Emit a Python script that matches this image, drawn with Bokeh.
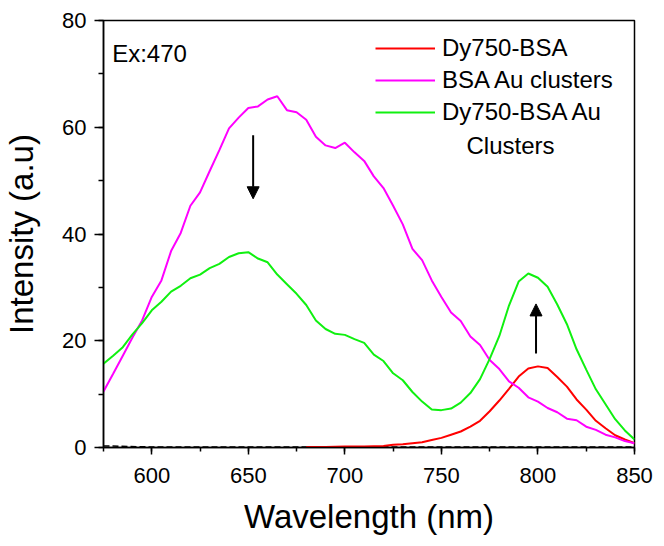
from bokeh.plotting import figure
from bokeh.models import (Range1d, SingleIntervalTicker, Legend, LegendItem, Label,
                          Arrow, NormalHead)
from bokeh.embed import file_html
from bokeh.resources import INLINE

# ---- data ----
wl = [575, 580, 585, 590, 595, 600, 605, 610, 615, 620, 625, 630, 635, 640, 645,
      650, 655, 660, 665, 670, 675, 680, 685, 690, 695, 700, 705, 710, 715, 720,
      725, 730, 735, 740, 745, 750, 755, 760, 765, 770, 775, 780, 785, 790, 795,
      800, 805, 810, 815, 820, 825, 830, 835, 840, 845, 850]

bsa_au = [10.5, 13.8, 17.2, 20.6, 23.8, 28.2, 31.3, 36.8, 40.2, 45.3, 47.8, 51.8,
          55.7, 59.8, 61.8, 63.6, 63.9, 65.2, 65.8, 63.2, 62.8, 61.4, 58.2, 56.6,
          56.1, 57.1, 55.3, 53.7, 50.8, 48.6, 45.3, 41.8, 37.2, 35.1, 31.3, 28.2,
          25.3, 23.7, 20.8, 19.2, 16.4, 14.7, 12.4, 11.2, 9.4, 8.6, 7.4, 6.6, 5.4,
          5.1, 3.9, 3.3, 2.4, 1.9, 1.2, 0.8]

dy_bsa_au = [15.7, 17.2, 18.8, 21.2, 23.3, 25.7, 27.3, 29.2, 30.3, 31.7, 32.4, 33.6,
             34.4, 35.7, 36.4, 36.6, 35.4, 34.7, 32.4, 30.6, 28.8, 26.7, 23.8, 22.2,
             21.3, 21.1, 20.3, 19.6, 17.4, 16.2, 13.9, 12.6, 10.4, 8.6, 7.1, 7.0,
             7.3, 8.4, 10.2, 12.8, 16.6, 20.9, 26.6, 31.1, 32.6, 31.8, 30.1, 26.8,
             23.1, 18.4, 14.6, 10.9, 8.1, 5.3, 3.2, 1.5]

wl_dy = [680, 690, 700, 710, 720, 725, 730, 735, 740, 745, 750, 755, 760, 765, 770,
         775, 780, 785, 790, 795, 800, 805, 810, 815, 820, 825, 830, 835, 840, 845, 850]
dy_bsa = [0.1, 0.1, 0.2, 0.2, 0.3, 0.5, 0.6, 0.8, 1.0, 1.4, 1.8, 2.4, 3.0, 3.9, 5.0,
          6.8, 8.8, 11.0, 13.3, 14.8, 15.2, 14.9, 13.2, 11.4, 9.0, 7.1, 5.0, 3.6,
          2.3, 1.5, 0.8]

wl_blank = [575, 600, 625, 650, 675, 700, 725, 750, 775, 800, 825, 850]
blank = [0.3, 0.1, 0.1, 0.1, 0.1, 0.1, 0.1, 0.1, 0.1, 0.1, 0.1, 0.1]

series_names = ["Dy750-BSA", "BSA Au clusters", "Dy750-BSA Au"]
series_colors = ["#ff0000", "#ff00ff", "#10f010"]

arrow_down = (652.5, 58.5, 652.5, 46.6)
arrow_up = (799.0, 17.6, 799.0, 26.9)

FONT = "Liberation Sans"

p = figure(width=656, height=538, output_backend="svg", toolbar_location=None,
           x_range=Range1d(575, 850), y_range=Range1d(0, 80),
           min_border_left=103, min_border_right=22, min_border_top=20,
           min_border_bottom=91)
p.background_fill_color = "white"
p.border_fill_color = "white"
p.grid.visible = False
p.outline_line_color = "black"
p.outline_line_width = 1.5
p.outline_line_alpha = 1

p.xaxis.ticker = SingleIntervalTicker(interval=50, num_minor_ticks=2)
p.yaxis.ticker = SingleIntervalTicker(interval=20, num_minor_ticks=2)

for ax in (p.xaxis[0], p.yaxis[0]):
    ax.axis_line_width = 1.5
    ax.axis_line_color = "black"
    ax.major_tick_line_width = 1.5
    ax.minor_tick_line_width = 1.5
    ax.major_tick_line_color = "black"
    ax.minor_tick_line_color = "black"
    ax.major_tick_in = 0
    ax.minor_tick_in = 0
    ax.major_label_text_font = FONT
    ax.major_label_text_font_size = "22px"
    ax.major_label_text_color = "black"
    ax.axis_label_text_font = FONT
    ax.axis_label_text_font_size = "33px"
    ax.axis_label_text_font_style = "normal"
    ax.axis_label_text_color = "black"

p.xaxis.major_tick_out = 7
p.xaxis.minor_tick_out = 4
p.yaxis.major_tick_out = 9
p.yaxis.minor_tick_out = 5
p.xaxis.major_label_standoff = 13
p.yaxis.major_label_standoff = 8
p.xaxis.axis_label = "Wavelength (nm)"
p.yaxis.axis_label = "Intensity (a.u)"
p.xaxis.axis_label_standoff = 12
p.yaxis.axis_label_standoff = 19

p.line(wl_blank, blank, line_color="black", line_width=1.5, line_dash="6 3")
r_red = p.line(wl_dy, dy_bsa, line_color=series_colors[0], line_width=2)
r_mag = p.line(wl, bsa_au, line_color=series_colors[1], line_width=2)
r_grn = p.line(wl, dy_bsa_au, line_color=series_colors[2], line_width=2)

legend = Legend(items=[LegendItem(label=series_names[0], renderers=[r_red]),
                       LegendItem(label=series_names[1], renderers=[r_mag]),
                       LegendItem(label=series_names[2], renderers=[r_grn])],
                location=(272, 319), padding=0, margin=0, spacing=0,
                glyph_width=60, glyph_height=32, label_height=32,
                label_standoff=7, border_line_color=None,
                background_fill_alpha=0,
                label_text_font=FONT, label_text_font_size="24px",
                label_text_color="black")
p.add_layout(legend, "center")

p.add_layout(Label(x=763, y=56.6, text="Clusters", text_font=FONT,
                   text_font_size="24px", text_baseline="middle",
                   text_color="black"))
p.add_layout(Label(x=579.5, y=73.8, text="Ex:470", text_font=FONT,
                   text_font_size="24px", text_baseline="alphabetic",
                   text_color="black"))

for a in (arrow_down, arrow_up):
    p.add_layout(Arrow(x_start=a[0], y_start=a[1], x_end=a[2], y_end=a[3],
                       line_width=2, line_color="black",
                       end=NormalHead(size=12, fill_color="black",
                                      line_color="black")))

open("out.html", "w").write(file_html(p, INLINE))
